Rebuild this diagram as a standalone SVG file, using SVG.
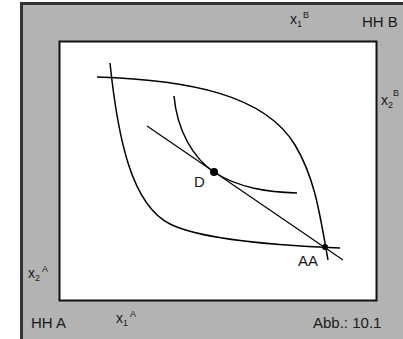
<svg xmlns="http://www.w3.org/2000/svg" width="403" height="339" viewBox="0 0 403 339">
<style>
  text { font-family: "Liberation Sans", Arial, sans-serif; fill: #1a1a1a; }
  .lbl { font-size: 15px; }
  .var { font-size: 14px; }
  .idx { font-size: 9px; }
  .curve { fill: none; stroke: #000; stroke-width: 1.5; }
</style>
<g id="frame">
  <rect x="21.5" y="3.5" width="395" height="350" fill="#b3b3b3" stroke="#333" stroke-width="3"/>
  <rect x="59.5" y="41.5" width="317" height="259" fill="#fff" stroke="#111" stroke-width="2"/>
</g>
<g id="labels">
  <text class="lbl" x="362" y="27">HH B</text>
  <text class="lbl" x="31" y="328">HH A</text>
  <text class="lbl" x="313" y="328">Abb.: 10.1</text>
  <text class="var" x="290" y="24">x<tspan class="idx" dy="3">1</tspan><tspan class="idx" dx="1" dy="-9">B</tspan></text>
  <text class="var" x="381" y="105">x<tspan class="idx" dy="3">2</tspan><tspan class="idx" dx="0" dy="-12">B</tspan></text>
  <text class="var" x="28" y="278">x<tspan class="idx" dy="3">2</tspan><tspan class="idx" dx="2" dy="-9">A</tspan></text>
  <text class="var" x="116" y="323">x<tspan class="idx" dy="3">1</tspan><tspan class="idx" dx="2" dy="-9">A</tspan></text>
</g>
<g id="connectors">
  <path id="curveA" class="curve" d="M110,63 C118,140 132,205 170,224 C200,239 265,245 340,248"/>
  <path id="curveB" class="curve" d="M97,77 C190,80 265,95 295,145 C315,178 320,215 328,260"/>
  <path id="curveD" class="curve" d="M174,96 C177,130 193,158 214,172 C240,189 270,192 297,193"/>
  <line id="budget" x1="147" y1="126" x2="343" y2="260" stroke="#000" stroke-width="1.2"/>
</g>
<g id="node-D">
  <circle cx="214" cy="172" r="4" fill="#000"/>
  <text class="lbl" x="194" y="187">D</text>
</g>
<g id="node-AA">
  <circle cx="325" cy="247" r="3" fill="#000"/>
  <text class="lbl" x="298" y="266">AA</text>
</g>
</svg>
